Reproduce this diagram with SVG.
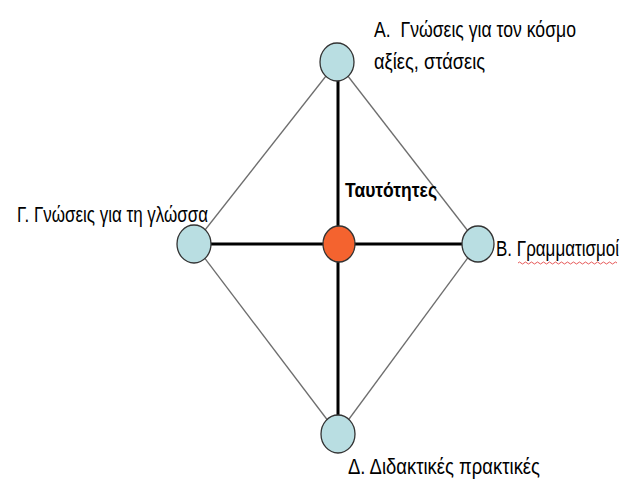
<svg xmlns="http://www.w3.org/2000/svg" width="624" height="480" viewBox="0 0 624 480">
<style>
.thin{stroke:#6e6e6e;stroke-width:1.3;fill:none}
.thick{stroke:#000;stroke-width:3;fill:none}
.n{fill:#b9dee2;stroke:#333;stroke-width:1.3}
.c{fill:#f4632f;stroke:#333;stroke-width:1.3}
text{font-family:"Liberation Sans",Arial,sans-serif;font-size:18px;fill:#000}
.b{font-weight:bold;font-size:17px}
.s{font-size:17px}
</style>
<rect width="624" height="480" fill="#fff"/>
<g id="connectors">
<line class="thin" x1="337" y1="62" x2="194" y2="244"/>
<line class="thin" x1="337" y1="62" x2="478" y2="244"/>
<line class="thin" x1="194" y1="244" x2="338" y2="434"/>
<line class="thin" x1="478" y1="244" x2="338" y2="434"/>
<line class="thick" x1="338" y1="62" x2="338" y2="434"/>
<line class="thick" x1="194" y1="244" x2="478" y2="244"/>
</g>
<g id="nodeA">
<ellipse class="n" cx="337" cy="62" rx="17" ry="19"/>
<text transform="translate(374,37) scale(1,1.22)" textLength="202" lengthAdjust="spacingAndGlyphs" xml:space="preserve">Α.  Γνώσεις για τον κόσμο</text>
<text transform="translate(374,69) scale(1,1.22)" textLength="111" lengthAdjust="spacingAndGlyphs">αξίες, στάσεις</text>
</g>
<g id="nodeG">
<ellipse class="n" cx="194" cy="244" rx="17" ry="19"/>
<text transform="translate(17,222) scale(1,1.22)" textLength="191" lengthAdjust="spacingAndGlyphs">Γ. Γνώσεις για τη γλώσσα</text>
</g>
<g id="nodeCenter">
<ellipse class="c" cx="339" cy="244" rx="16" ry="18"/>
<text class="b" transform="translate(345,197) scale(1,1.22)" textLength="92" lengthAdjust="spacingAndGlyphs">Ταυτότητες</text>
</g>
<g id="nodeB">
<ellipse class="n" cx="478" cy="244" rx="16" ry="18"/>
<text class="s" transform="translate(496,256) scale(1,1.29)" textLength="123" lengthAdjust="spacingAndGlyphs">Β. Γραμματισμοί</text>
<path d="M518 263 q1.5 -2 3 0 t3 0 t3 0 t3 0 t3 0 t3 0 t3 0 t3 0 t3 0 t3 0 t3 0 t3 0 t3 0 t3 0 t3 0 t3 0 t3 0 t3 0 t3 0 t3 0 t3 0 t3 0 t3 0 t3 0 t3 0 t3 0 t3 0 t3 0 t3 0 t3 0 t3 0 t3 0 t3 0" stroke="#e03030" stroke-width="0.8" fill="none"/>
</g>
<g id="nodeD">
<ellipse class="n" cx="338" cy="434" rx="17" ry="19"/>
<text transform="translate(348,474) scale(1,1.22)" textLength="192" lengthAdjust="spacingAndGlyphs">Δ. Διδακτικές πρακτικές</text>
</g>
</svg>
